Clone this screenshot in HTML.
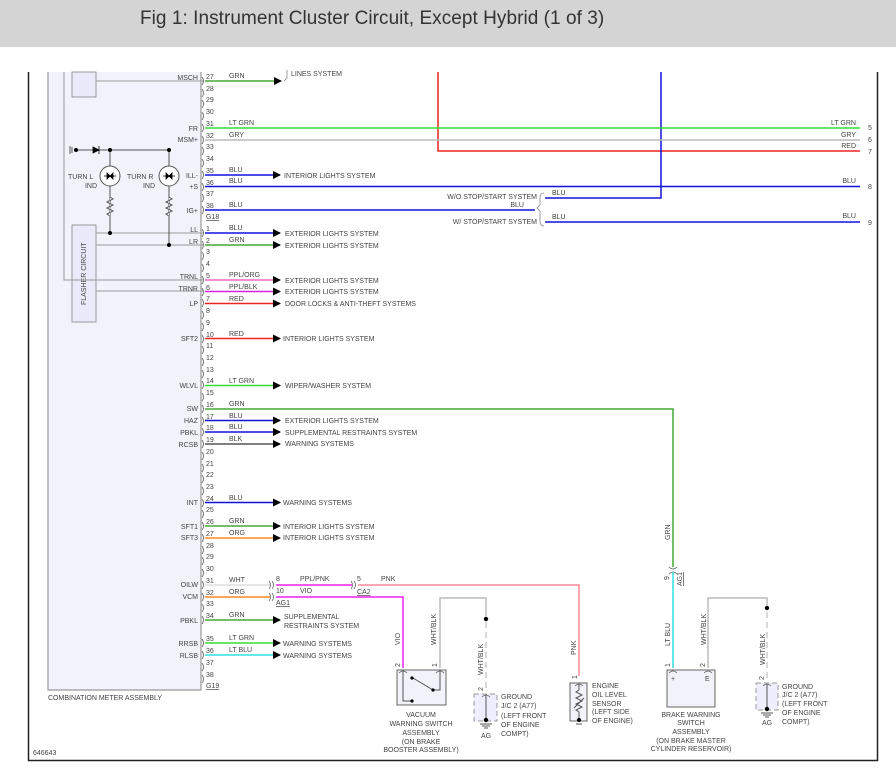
<!DOCTYPE html>
<html><head><meta charset="utf-8"><style>
html,body{margin:0;padding:0;background:#fff;width:896px;height:777px;overflow:hidden}
#t{position:absolute;left:0;top:0;width:896px;height:47px;background:#d4d4d4}
#t span{position:absolute;left:140px;top:8px;font:19px "Liberation Sans",sans-serif;color:#333;letter-spacing:0.05px}
svg{position:absolute;left:0;top:0}
text{font-family:"Liberation Sans",sans-serif;font-size:7px;fill:#444}
.r{text-anchor:end}.m{text-anchor:middle}
</style></head><body>
<div id="t"><span>Fig 1: Instrument Cluster Circuit, Except Hybrid (1 of 3)</span></div>
<svg width="896" height="777" viewBox="0 0 896 777">
<defs><marker id="a" markerWidth="8" markerHeight="8" refX="7" refY="4" orient="auto" markerUnits="userSpaceOnUse"><path d="M0,0 L8,4 L0,8z" fill="#000"/></marker></defs>
<path d="M28.5,72 V760.5 H877.5 V72" fill="none" stroke="#222" stroke-width="1.5"/>
<path d="M48,72 V690 H201 V72" fill="#f2f2fb" stroke="#999" stroke-width="1.2"/>
<rect x="72" y="72" width="24" height="25" fill="#eaeafa" stroke="#999"/>
<rect x="72" y="225" width="24" height="97" fill="#eaeafa" stroke="#999"/>
<text transform="translate(86,305) rotate(-90)">FLASHER CIRCUIT</text>
<path d="M64,72 V280 H203" fill="none" stroke="#999"/>
<path d="M96,81H203M96,233H203M96,245H203M96,291H203" stroke="#999"/>
<path d="M75,150H169M110,150V233M169,150V245" stroke="#555" fill="none"/>
<path d="M70,146V154M72,147V153" stroke="#555"/>
<circle cx="76" cy="150" r="2" fill="#000"/>
<path d="M93,147 L99,150 L93,153z M99,146V154" fill="#000" stroke="#000" stroke-width=".8"/>
<circle cx="110" cy="150" r="2" fill="#000"/><circle cx="169" cy="150" r="2" fill="#000"/>
<circle cx="110" cy="233" r="2" fill="#000"/><circle cx="169" cy="245" r="2" fill="#000"/>
<circle cx="110" cy="176" r="10" fill="#fff" stroke="#555"/><circle cx="169" cy="176" r="10" fill="#fff" stroke="#555"/>
<path d="M104,176h12M107,173l3,3-3,3zM113,173l-3,3 3,3z M163,176h12M166,173l3,3-3,3zM172,173l-3,3 3,3z" stroke="#000" fill="#000" stroke-width=".8"/>
<path d="M110,197 l3,2 -6,3 6,3 -6,3 6,3 -6,3 3,2 M169,197 l3,2 -6,3 6,3 -6,3 6,3 -6,3 3,2" stroke="#555" fill="#fff"/>
<text x="68" y="179">TURN L</text><text x="97" y="188" class="r">IND</text>
<text x="127" y="179">TURN R</text><text x="155" y="188" class="r">IND</text>
<g stroke="#666" fill="none" stroke-width=".9">
<path d="M202,77q3,4 0,8M202,89q3,4 0,8M202,100q3,4 0,8M202,112q3,4 0,8M202,124q3,4 0,8M202,136q3,4 0,8M202,147q3,4 0,8M202,159q3,4 0,8M202,171q3,4 0,8M202,183q3,4 0,8M202,194q3,4 0,8M202,206q3,4 0,8"/>
<path d="M202,229q3,4 0,8M202,241q3,4 0,8M202,252q3,4 0,8M202,264q3,4 0,8M202,276q3,4 0,8M202,288q3,4 0,8M202,299q3,4 0,8M202,311q3,4 0,8M202,323q3,4 0,8M202,335q3,4 0,8M202,346q3,4 0,8M202,358q3,4 0,8M202,370q3,4 0,8M202,381q3,4 0,8M202,393q3,4 0,8M202,405q3,4 0,8M202,417q3,4 0,8M202,428q3,4 0,8M202,440q3,4 0,8M202,452q3,4 0,8M202,464q3,4 0,8M202,475q3,4 0,8M202,487q3,4 0,8M202,499q3,4 0,8M202,510q3,4 0,8M202,522q3,4 0,8M202,534q3,4 0,8M202,546q3,4 0,8M202,557q3,4 0,8M202,569q3,4 0,8M202,581q3,4 0,8M202,593q3,4 0,8M202,604q3,4 0,8M202,616q3,4 0,8M202,639q3,4 0,8M202,651q3,4 0,8M202,663q3,4 0,8M202,675q3,4 0,8"/>
</g>
<g>
<text x="206" y="79">27</text><text x="206" y="91">28</text><text x="206" y="102">29</text><text x="206" y="114">30</text><text x="206" y="126">31</text><text x="206" y="138">32</text><text x="206" y="149">33</text><text x="206" y="161">34</text><text x="206" y="173">35</text><text x="206" y="185">36</text><text x="206" y="196">37</text><text x="206" y="208">38</text>
<text x="206" y="219" text-decoration="underline">G18</text>
<text x="206" y="231">1</text><text x="206" y="243">2</text><text x="206" y="254">3</text><text x="206" y="266">4</text><text x="206" y="278">5</text><text x="206" y="290">6</text><text x="206" y="301">7</text><text x="206" y="313">8</text><text x="206" y="325">9</text><text x="206" y="337">10</text><text x="206" y="348">11</text><text x="206" y="360">12</text><text x="206" y="372">13</text><text x="206" y="383">14</text><text x="206" y="395">15</text><text x="206" y="407">16</text><text x="206" y="419">17</text><text x="206" y="430">18</text><text x="206" y="442">19</text><text x="206" y="454">20</text><text x="206" y="466">21</text><text x="206" y="477">22</text><text x="206" y="489">23</text><text x="206" y="501">24</text><text x="206" y="512">25</text><text x="206" y="524">26</text><text x="206" y="536">27</text><text x="206" y="548">28</text><text x="206" y="559">29</text><text x="206" y="571">30</text><text x="206" y="583">31</text><text x="206" y="595">32</text><text x="206" y="606">33</text><text x="206" y="618">34</text><text x="206" y="641">35</text><text x="206" y="653">36</text><text x="206" y="665">37</text><text x="206" y="677">38</text>
<text x="206" y="688" text-decoration="underline">G19</text>
</g>
<g class="r">
<text x="198" y="80" class="r">MSCH</text><text x="198" y="131" class="r">FR</text><text x="198" y="142" class="r">MSM+</text><text x="198" y="178" class="r">ILL-</text><text x="198" y="189" class="r">+S</text><text x="198" y="213" class="r">IG+</text>
<text x="198" y="232" class="r">LL</text><text x="198" y="244" class="r">LR</text><text x="198" y="279" class="r">TRNL</text><text x="198" y="291" class="r">TRNR</text><text x="198" y="306" class="r">LP</text><text x="198" y="341" class="r">SFT2</text><text x="198" y="388" class="r">WLVL</text><text x="198" y="411" class="r">SW</text><text x="198" y="423" class="r">HAZ</text><text x="198" y="435" class="r">PBKL</text><text x="198" y="447" class="r">RCSB</text><text x="198" y="505" class="r">INT</text><text x="198" y="529" class="r">SFT1</text><text x="198" y="540" class="r">SFT3</text><text x="198" y="587" class="r">OILW</text><text x="198" y="599" class="r">VCM</text><text x="198" y="623" class="r">PBKL</text><text x="198" y="646" class="r">RRSB</text><text x="198" y="658" class="r">RLSB</text>
</g>
<path d="M438,72V151H860" stroke="#ee2222" stroke-width="1.5" fill="none"/>
<path d="M661,72V198H545" stroke="#1111dd" stroke-width="1.5" fill="none"/>
<path d="M205,128H860" stroke="#33dd33" stroke-width="1.5"/>
<path d="M205,140H860" stroke="#bbb" stroke-width="1.5"/>
<path d="M205,186.5H860" stroke="#1111dd" stroke-width="1.5"/>
<path d="M205,210H535" stroke="#1111dd" stroke-width="1.5"/>
<path d="M545,222H860" stroke="#1111dd" stroke-width="1.5"/>
<path d="M544,193q-4,0 -4,5v7l-3,3 3,3v10q0,5 4,5" stroke="#888" fill="none" stroke-width=".8"/>
<text x="856" y="125" class="r">LT GRN</text><text x="856" y="137" class="r">GRY</text><text x="856" y="148" class="r">RED</text><text x="856" y="183" class="r">BLU</text><text x="856" y="218" class="r">BLU</text>
<text x="868" y="130">5</text><text x="868" y="142">6</text><text x="868" y="154">7</text><text x="868" y="189">8</text><text x="868" y="225">9</text>
<text x="537" y="199" class="r">W/O STOP/START SYSTEM</text><text x="524" y="207" class="r">BLU</text><text x="537" y="224" class="r">W/ STOP/START SYSTEM</text>
<text x="552" y="195">BLU</text><text x="552" y="219">BLU</text>
<g stroke-width="1.5" marker-end="url(#a)">
<path d="M205,81H281" stroke="#44aa33"/>
<path d="M205,175H280" stroke="#1111dd"/>
<path d="M205,233H280" stroke="#1111dd"/>
<path d="M205,245H280" stroke="#44aa33"/>
<path d="M205,280H280" stroke="#ff66cc"/>
<path d="M205,291.5H280" stroke="#dd22dd"/>
<path d="M205,303.5H280" stroke="#ee2222"/>
<path d="M205,338.5H280" stroke="#ee2222"/>
<path d="M205,385.5H280" stroke="#33dd33"/>
<path d="M205,420.5H280" stroke="#1111dd"/>
<path d="M205,432H280" stroke="#1111dd"/>
<path d="M205,444H280" stroke="#555"/>
<path d="M205,502.5H280" stroke="#1111dd"/>
<path d="M205,526H280" stroke="#44aa33"/>
<path d="M205,538H280" stroke="#ff8822"/>
<path d="M205,620H280" stroke="#44aa33"/>
<path d="M205,643H280" stroke="#33dd33"/>
<path d="M205,655H280" stroke="#33dddd"/>
</g>
<path d="M287,70v8l-3,3" stroke="#888" fill="none" stroke-width=".8"/>
<text x="291" y="76">LINES SYSTEM</text>
<g>
<text x="284" y="178">INTERIOR LIGHTS SYSTEM</text><text x="285" y="236">EXTERIOR LIGHTS SYSTEM</text><text x="285" y="248">EXTERIOR LIGHTS SYSTEM</text><text x="285" y="283">EXTERIOR LIGHTS SYSTEM</text><text x="285" y="294">EXTERIOR LIGHTS SYSTEM</text><text x="285" y="306">DOOR LOCKS &amp; ANTI-THEFT SYSTEMS</text><text x="283" y="341">INTERIOR LIGHTS SYSTEM</text><text x="285" y="388">WIPER/WASHER SYSTEM</text><text x="285" y="423">EXTERIOR LIGHTS SYSTEM</text><text x="285" y="435">SUPPLEMENTAL RESTRAINTS SYSTEM</text><text x="285" y="446">WARNING SYSTEMS</text><text x="283" y="505">WARNING SYSTEMS</text><text x="283" y="529">INTERIOR LIGHTS SYSTEM</text><text x="283" y="540">INTERIOR LIGHTS SYSTEM</text><text x="284" y="619">SUPPLEMENTAL</text><text x="284" y="628">RESTRAINTS SYSTEM</text><text x="283" y="646">WARNING SYSTEMS</text><text x="283" y="658">WARNING SYSTEMS</text>
</g>
<g>
<text x="229" y="78">GRN</text><text x="229" y="125">LT GRN</text><text x="229" y="137">GRY</text><text x="229" y="172">BLU</text><text x="229" y="183">BLU</text><text x="229" y="207">BLU</text>
<text x="229" y="230">BLU</text><text x="229" y="242">GRN</text><text x="229" y="277">PPL/ORG</text><text x="229" y="289">PPL/BLK</text><text x="229" y="301">RED</text><text x="229" y="336">RED</text><text x="229" y="383">LT GRN</text><text x="229" y="406">GRN</text><text x="229" y="418">BLU</text><text x="229" y="429">BLU</text><text x="229" y="441">BLK</text><text x="229" y="500">BLU</text><text x="229" y="523">GRN</text><text x="229" y="535">ORG</text><text x="229" y="582">WHT</text><text x="229" y="594">ORG</text><text x="229" y="617">GRN</text><text x="229" y="640">LT GRN</text><text x="229" y="652">LT BLU</text>
</g>
<path d="M205,409H673V567" stroke="#44aa33" stroke-width="1.5" fill="none"/>
<text transform="translate(670,540) rotate(-90)">GRN</text>
<path d="M669,567q4,4 8,0M669,574q4,-4 8,0" stroke="#666" fill="none" stroke-width=".8"/>
<text transform="translate(669,580) rotate(-90)">9</text>
<text transform="translate(682,586) rotate(-90)" text-decoration="underline">AG1</text>
<path d="M673,572V668" stroke="#33dddd" stroke-width="1.5"/>
<text transform="translate(670,646) rotate(-90)">LT BLU</text>
<path d="M205,585H270" stroke="#ddd" stroke-width="1.5"/>
<path d="M205,597H270" stroke="#ff8822" stroke-width="1.5"/>
<path d="M269,581q3,4 0,8M272,581q3,4 0,8M269,593q3,4 0,8M272,593q3,4 0,8M351,581q3,4 0,8M354,581q3,4 0,8" stroke="#666" fill="none" stroke-width=".8"/>
<path d="M276,585H352" stroke="#ee22ee" stroke-width="1.5"/>
<path d="M358,585H579V676" stroke="#ff8899" stroke-width="1.5" fill="none"/>
<path d="M276,597H403V668" stroke="#ee22ee" stroke-width="1.5" fill="none"/>
<text x="276" y="581">8</text><text x="300" y="581">PPL/PNK</text><text x="357" y="581">5</text><text x="381" y="581">PNK</text>
<text x="357" y="594" text-decoration="underline">CA2</text>
<text x="276" y="593">10</text><text x="300" y="593">VIO</text>
<text x="276" y="605" text-decoration="underline">AG1</text>
<text transform="translate(400,645) rotate(-90)">VIO</text>
<text transform="translate(576,655) rotate(-90)">PNK</text>
<path d="M440,668V598H486V616" stroke="#bbb" stroke-width="1.5" fill="none"/>
<text transform="translate(436,645) rotate(-90)">WHT/BLK</text>
<circle cx="486" cy="619" r="2.2" fill="#000"/>
<path d="M486,622V690" stroke="#ccc" stroke-width="1.5" stroke-dasharray="6,4"/>
<text transform="translate(483,675) rotate(-90)">WHT/BLK</text>
<text transform="translate(400,667) rotate(-90)">2</text><text transform="translate(437,667) rotate(-90)">1</text>
<rect x="397" y="670" width="49" height="35" fill="#f2f2fb" stroke="#666"/>
<path d="M399,673q4,-4 8,0M436,673q4,-4 8,0" stroke="#666" fill="none" stroke-width=".8"/>
<path d="M403,670V701H412M440,670V690H433L413,678" stroke="#555" fill="none"/>
<circle cx="412" cy="701" r="1.6" fill="#000"/><circle cx="433" cy="690" r="1.6" fill="#000"/><circle cx="412" cy="678" r="1.6" fill="#000"/>
<text x="421" y="717" class="m">VACUUM</text><text x="421" y="726" class="m">WARNING SWITCH</text><text x="421" y="735" class="m">ASSEMBLY</text><text x="421" y="744" class="m">(ON BRAKE</text><text x="421" y="752" class="m">BOOSTER ASSEMBLY)</text>
<text transform="translate(483,691) rotate(-90)">2</text>
<rect x="474" y="694" width="23" height="27" fill="#eef" stroke="#999" stroke-dasharray="5,3"/>
<path d="M482,697q4,-4 8,0" stroke="#666" fill="none" stroke-width=".8"/>
<path d="M486,695V720M480,724h12M482,726h8M484,728h4" stroke="#555"/>
<circle cx="486" cy="720" r="2.2" fill="#000"/>
<text x="486" y="738" class="m">AG</text>
<text x="501" y="699">GROUND</text><text x="501" y="708">J/C 2 (A77)</text><text x="501" y="718">(LEFT FRONT</text><text x="501" y="727">OF ENGINE</text><text x="501" y="736">COMPT)</text>
<text transform="translate(577,679) rotate(-90)">1</text>
<rect x="570" y="683" width="17" height="38" fill="#f2f2fb" stroke="#666"/>
<path d="M575,686q4,-4 8,0" stroke="#666" fill="none" stroke-width=".8"/>
<path d="M579,684V690l-3,2 6,3 -6,3 6,3 -6,3 6,3 -6,3 3,2V720M574,708l10,-10M576,724h6" stroke="#555" fill="none"/>
<circle cx="579" cy="720" r="2" fill="#000"/>
<text x="592" y="688">ENGINE</text><text x="592" y="697">OIL LEVEL</text><text x="592" y="706">SENSOR</text><text x="592" y="714">(LEFT SIDE</text><text x="592" y="723">OF ENGINE)</text>
<path d="M708,668V598H767V605" stroke="#bbb" stroke-width="1.5" fill="none"/>
<text transform="translate(706,645) rotate(-90)">WHT/BLK</text>
<circle cx="767" cy="608" r="2.2" fill="#000"/>
<path d="M767,612V680" stroke="#ccc" stroke-width="1.5" stroke-dasharray="6,4"/>
<text transform="translate(765,665) rotate(-90)">WHT/BLK</text>
<text transform="translate(670,667) rotate(-90)">1</text><text transform="translate(705,667) rotate(-90)">2</text>
<rect x="667" y="670" width="48" height="37" fill="#f2f2fb" stroke="#666"/>
<path d="M669,673q4,-4 8,0M704,673q4,-4 8,0" stroke="#666" fill="none" stroke-width=".8"/>
<text x="671" y="681">+</text><text x="705" y="681">E</text>
<text x="691" y="717" class="m">BRAKE WARNING</text><text x="691" y="725" class="m">SWITCH</text><text x="691" y="734" class="m">ASSEMBLY</text><text x="691" y="743" class="m">(ON BRAKE MASTER</text><text x="691" y="751" class="m">CYLINDER RESERVOIR)</text>
<text transform="translate(764,680) rotate(-90)">2</text>
<rect x="756" y="683" width="22" height="27" fill="#eef" stroke="#999" stroke-dasharray="5,3"/>
<path d="M763,686q4,-4 8,0" stroke="#666" fill="none" stroke-width=".8"/>
<path d="M767,684V709M761,713h12M763,715h8M765,717h4" stroke="#555"/>
<circle cx="767" cy="709" r="2.2" fill="#000"/>
<text x="767" y="725" class="m">AG</text>
<text x="782" y="689">GROUND</text><text x="782" y="697">J/C 2 (A77)</text><text x="782" y="706">(LEFT FRONT</text><text x="782" y="715">OF ENGINE</text><text x="782" y="724">COMPT)</text>
<text x="48" y="700">COMBINATION METER ASSEMBLY</text>
<text x="33" y="755">646643</text>
</svg>
</body></html>
